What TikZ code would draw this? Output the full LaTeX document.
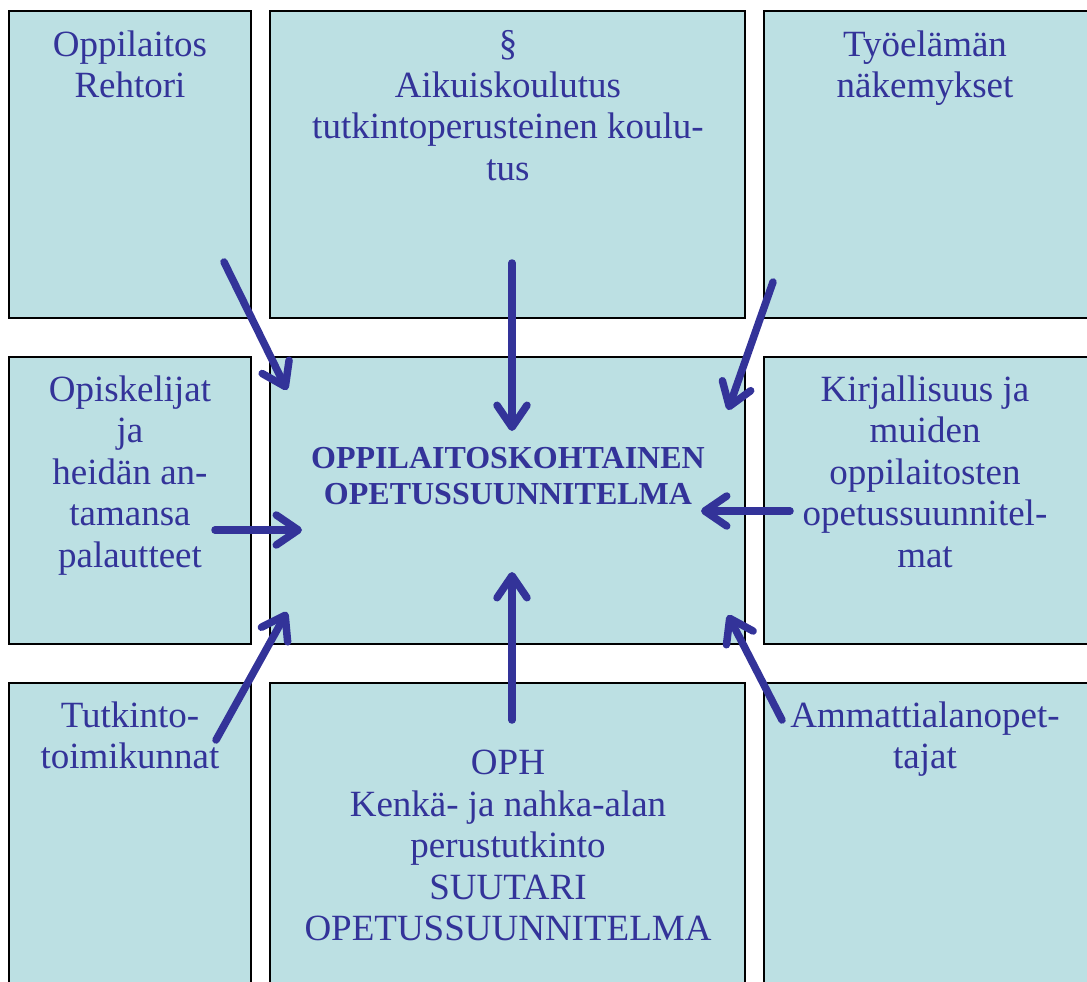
\documentclass[tikz,border=0pt]{standalone}
\usepackage{fontspec}
\setmainfont{Liberation Serif}
\usetikzlibrary{arrows.meta}
\definecolor{boxfill}{HTML}{BCE0E3}
\definecolor{ink}{HTML}{333399}
\tikzset{
  panel/.style={draw=black, line width=2pt, fill=boxfill},
  txt/.style={anchor=north, align=center, inner sep=0pt, text=ink, font=\fontsize{37}{41.5}\selectfont},
  boldtxt/.style={anchor=north, align=center, inner sep=0pt, text=ink, font=\bfseries\fontsize{32}{36}\selectfont},
  flow/.style={draw=ink, line width=7.5pt, line cap=round, -{Straight Barb[length=22pt,width=30pt,line width=7.5pt,round]}}
}
\begin{document}
\begin{tikzpicture}[x=1pt,y=-1pt]
\useasboundingbox (0,0) rectangle (1087,982);
\begin{scope}
\clip (0,0) rectangle (1087,982);
% panels
\draw[panel] (9,11) rectangle (251,318);
\draw[panel] (270,11) rectangle (745,318);
\draw[panel] (764,11) rectangle (1100,318);
\draw[panel] (9,357) rectangle (251,644);
\draw[panel] (270,357) rectangle (745,644);
\draw[panel] (764,357) rectangle (1100,644);
\draw[panel] (9,683) rectangle (251,1000);
\draw[panel] (270,683) rectangle (745,1000);
\draw[panel] (764,683) rectangle (1100,1000);
\end{scope}
% texts
\node[txt] (tl) at (130,30.5) {Oppilaitos\\Rehtori};
\node[txt] (tm) at (508,30.5) {§\\Aikuiskoulutus\\tutkintoperusteinen koulu-\\tus};
\node[txt] (tr) at (925,30.5) {Työelämän\\näkemykset};
\node[txt] (ml) at (130,375.5) {Opiskelijat\\ja\\heidän an-\\tamansa\\palautteet};
\node[boldtxt] (mm) at (508,447) {OPPILAITOSKOHTAINEN\\OPETUSSUUNNITELMA};
\node[txt] (mr) at (925,375.5) {Kirjallisuus ja\\muiden\\oppilaitosten\\opetussuunnitel-\\mat};
\node[txt] (bl) at (130,701.5) {Tutkinto-\\toimikunnat};
\node[txt] (bm) at (508,750) {OPH\\Kenkä- ja nahka-alan\\perustutkinto\\SUUTARI\\OPETUSSUUNNITELMA};
\node[txt] (br) at (925,701.5) {Ammattialanopet-\\tajat};
% arrow end points
\coordinate (s1) at (224,262); \coordinate (e1) at (287,390);
\coordinate (s2) at (512,263); \coordinate (e2) at (512,431);
\coordinate (s3) at (773,282); \coordinate (e3) at (728,410);
\coordinate (s4) at (215,530); \coordinate (e4) at (302,530);
\coordinate (s5) at (790,511); \coordinate (e5) at (701,511);
\coordinate (s6) at (216,740); \coordinate (e6) at (287,612);
\coordinate (s7) at (512,720); \coordinate (e7) at (512,572);
\coordinate (s8) at (782,720); \coordinate (e8) at (728,615);
% arrows
\draw[flow] (s1) -- (e1);
\draw[flow] (s2) -- (e2);
\draw[flow] (s3) -- (e3);
\draw[flow] (s4) -- (e4);
\draw[flow] (s5) -- (e5);
\draw[flow] (s6) -- (e6);
\draw[flow] (s7) -- (e7);
\draw[flow] (s8) -- (e8);
\end{tikzpicture}
\end{document}
